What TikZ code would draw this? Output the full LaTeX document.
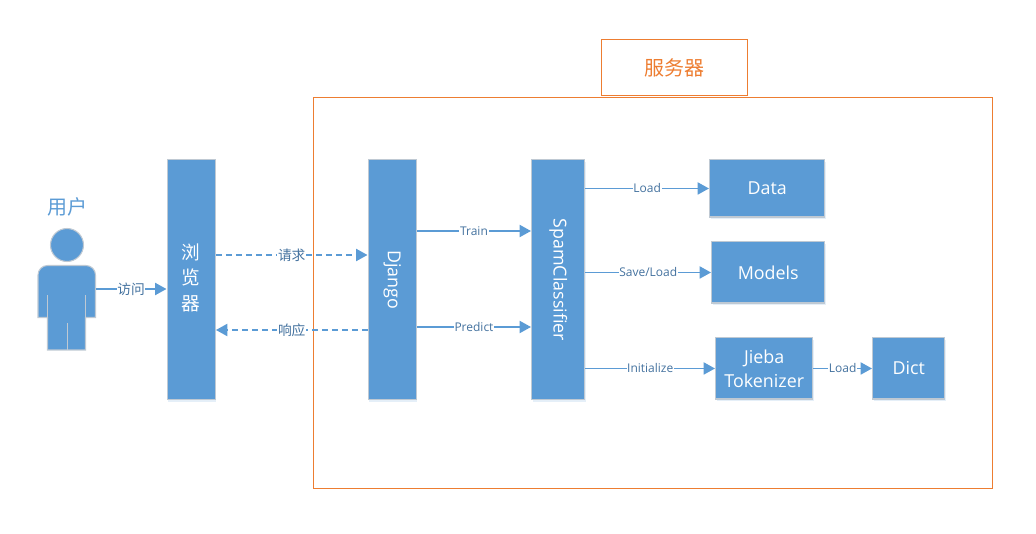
\documentclass[tikz,border=0pt]{standalone}
\usepackage{fontspec}
\setmainfont{Open Sans}
\newfontfamily\cjk{Noto Sans CJK SC}
\usetikzlibrary{arrows.meta,shadows,calc}
\definecolor{blueFill}{HTML}{5B9BD5}
\definecolor{blueEdge}{HTML}{BFC9D3}
\definecolor{labelBlue}{HTML}{44729F}
\definecolor{frameOrange}{HTML}{ED7D31}
\tikzset{
  x=0.75pt,y=-0.75pt,
  bluebox/.style={draw=blueEdge,line width=1.1pt,fill=blueFill,text=white,font=\fontsize{13.4}{18}\selectfont,
    align=center,inner sep=0pt,
    drop shadow={shadow xshift=0.8pt,shadow yshift=-1.6pt,fill=blueFill,opacity=0.16}},
  link/.style={draw=blueFill,line width=1.4pt,-{Triangle[length=8.5pt,width=9pt]}},
  dashlink/.style={link,dash pattern=on 4.5pt off 3pt},
  lab/.style={fill=white,text=labelBlue,font=\fontsize{9}{11}\selectfont,inner xsep=0.5pt,inner ysep=1pt},
  cjklab/.style={lab,font=\cjk\fontsize{10.3}{12}\selectfont},
  frame/.style={draw=frameOrange,line width=0.75pt},
  boxtext/.style={text=white,font=\fontsize{13.4}{18}\selectfont},
  vertcjk/.style={text=white,align=center,font=\cjk\fontsize{14}{19}\selectfont},
  nudged/.style={yshift=0.4pt},
}
\newcommand{\boxat}[6]{\node[bluebox,minimum width=#3*0.75pt,minimum height=#4*0.75pt,anchor=north west,#6] (#5) at (#1,#2)}
\begin{document}
\begin{tikzpicture}
\useasboundingbox (1,1) rectangle (1037,535);
% frames
\node[frame,anchor=north west,minimum width=679*0.75pt,minimum height=391*0.75pt,inner sep=0pt] (server) at (313.5,98.5) {};
\node[frame,anchor=north west,minimum width=146*0.75pt,minimum height=56*0.75pt,inner sep=0pt,text=frameOrange,font=\cjk\fontsize{15}{18}\selectfont] (servertitle) at (601.5,40.5) {服务器};
% person
\node[text=blueFill,font=\cjk\fontsize{15}{18}\selectfont] (usertitle) at (68,208) {用户};
\node[circle,draw=blueEdge,line width=0.8pt,fill=blueFill,minimum size=33*0.75pt,inner sep=0pt] (head) at (68,246) {};
\draw[draw=blueEdge,line width=0.8pt,fill=blueFill]
  (48.5,266.5) -- (87,266.5) arc[start angle=270,end angle=360,radius=9.5] -- (96.5,318.5) -- (86.5,318.5) -- (86.5,351) -- (48.5,351) -- (48.5,318.5) -- (39,318.5) -- (39,276) arc[start angle=180,end angle=270,radius=9.5] -- cycle;
\draw[blueEdge,line width=0.7pt] (48.5,296.5) -- (48.5,318.5) (86.5,296.5) -- (86.5,318.5) (68,324.5) -- (68,351);
\coordinate (user) at (96.5,290);
% boxes
\boxat{167.5}{160}{48}{240}{browser}{} {};
\node[vertcjk] at ($(browser.center)+(0,-2)$) {\cjk\fontsize{14}{19}\selectfont 浏\\\cjk\fontsize{14}{19}\selectfont 览\\\cjk\fontsize{14}{19}\selectfont 器};
\boxat{368.5}{160}{48}{240}{django}{} {};
\node[boxtext,rotate=-90] at (django.center) {Django};
\boxat{532}{160}{53}{240}{spam}{} {};
\node[boxtext,rotate=-90] at (spam.center) {SpamClassifier};
\boxat{710}{160}{115}{57.5}{data}{} {Data};
\boxat{712}{242}{113}{61.5}{models}{} {Models};
\boxat{716}{338}{97}{61.5}{jieba}{} {Jieba\\Tokenizer};
\boxat{873}{338}{72}{61.5}{dict}{} {Dict};
% connectors
\draw[link] (user) -- node[cjklab] {访问} (browser.west |- user);
\draw[dashlink] (browser.east |- 0,256) -- node[cjklab] {请求} (django.west |- 0,256);
\draw[dashlink] (django.west |- 0,331) -- node[cjklab] {响应} (browser.east |- 0,331);
\draw[link] (django.east |- 0,232) -- node[lab] {Train} (spam.west |- 0,232);
\draw[link] (django.east |- 0,328) -- node[lab] {Predict} (spam.west |- 0,328);
\draw[link,nudged] (spam.east |- data.west) -- node[lab] {Load} (data.west);
\draw[link,nudged] (spam.east |- models.west) -- node[lab] {Save/Load} (models.west);
\draw[link,nudged] (spam.east |- jieba.west) -- node[lab] {Initialize} (jieba.west);
\draw[link,nudged] (jieba.east) -- node[lab] {Load} (dict.west);
\end{tikzpicture}
\end{document}
